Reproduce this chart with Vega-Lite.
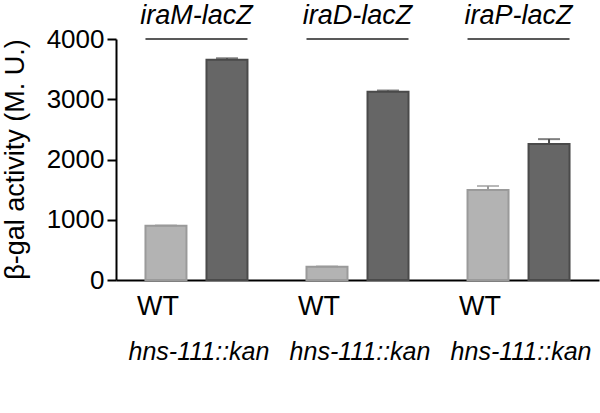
{
  "$schema": "https://vega.github.io/schema/vega-lite/v6.json",
  "width": 483,
  "height": 241,
  "autosize": {"type": "none"},
  "padding": {"left": 116, "top": 39, "right": 1, "bottom": 133},
  "background": "white",
  "config": {"view": {"stroke": null}, "font": "Liberation Sans"},
  "data": {
    "values": [
      {"reporter": "iraM-lacZ", "strain": "WT", "value": 900, "upper": 905},
      {"reporter": "iraM-lacZ", "strain": "hns-111::kan", "value": 3655, "upper": 3680},
      {"reporter": "iraD-lacZ", "strain": "WT", "value": 220, "upper": 225},
      {"reporter": "iraD-lacZ", "strain": "hns-111::kan", "value": 3125, "upper": 3145},
      {"reporter": "iraP-lacZ", "strain": "WT", "value": 1494, "upper": 1560},
      {"reporter": "iraP-lacZ", "strain": "hns-111::kan", "value": 2257, "upper": 2338}
    ]
  },
  "encoding": {
    "x": {
      "field": "reporter",
      "type": "nominal",
      "sort": ["iraM-lacZ", "iraD-lacZ", "iraP-lacZ"],
      "scale": {"paddingInner": 0.3665, "paddingOuter": 0.183},
      "axis": {"domain": true, "domainColor": "#000000", "domainWidth": 2, "ticks": false, "labels": false, "title": null}
    }
  },
  "layer": [
    {
      "mark": {"type": "bar", "strokeWidth": 2},
      "encoding": {
        "xOffset": {"field": "strain", "type": "nominal", "sort": ["WT", "hns-111::kan"], "scale": {"paddingInner": 0.328, "paddingOuter": 0}},
        "y": {
          "field": "value",
          "type": "quantitative",
          "scale": {"domain": [0, 4000], "nice": false},
          "axis": {
            "values": [0, 1000, 2000, 3000, 4000],
            "format": "d",
            "grid": false,
            "domainColor": "#000000",
            "domainWidth": 2,
            "tickColor": "#000000",
            "tickWidth": 2,
            "tickSize": 9,
            "labelPadding": 3,
            "labelFontSize": 26,
            "labelColor": "#000000",
            "title": "β-gal activity (M. U.)",
            "titleFontSize": 27,
            "titleFontWeight": "normal",
            "titleColor": "#000000",
            "titleAngle": 270,
            "titleX": -101,
            "titleY": 120,
            "titleAlign": "center",
            "titleBaseline": "middle"
          }
        },
        "fill": {"field": "strain", "type": "nominal", "scale": {"domain": ["WT", "hns-111::kan"], "range": ["#b3b3b3", "#666666"]}, "legend": null},
        "stroke": {"field": "strain", "type": "nominal", "scale": {"domain": ["WT", "hns-111::kan"], "range": ["#9a9a9a", "#4a4a4a"]}, "legend": null}
      }
    },
    {
      "mark": {"type": "rule", "strokeWidth": 2},
      "encoding": {
        "xOffset": {"field": "strain", "type": "nominal", "sort": ["WT", "hns-111::kan"]},
        "y": {"field": "value", "type": "quantitative"},
        "y2": {"field": "upper"},
        "stroke": {"field": "strain", "type": "nominal", "legend": null}
      }
    },
    {
      "mark": {"type": "tick", "size": 22, "thickness": 2},
      "encoding": {
        "xOffset": {"field": "strain", "type": "nominal", "sort": ["WT", "hns-111::kan"]},
        "y": {"field": "upper", "type": "quantitative"},
        "color": {"field": "strain", "type": "nominal", "scale": {"domain": ["WT", "hns-111::kan"], "range": ["#9a9a9a", "#4a4a4a"]}, "legend": null}
      }
    },
    {
      "transform": [{"filter": "datum.strain === 'WT'"}],
      "mark": {"type": "text", "align": "center", "baseline": "middle", "fontSize": 27, "dx": -8, "dy": 27, "color": "#000000"},
      "encoding": {
        "xOffset": {"field": "strain", "type": "nominal", "sort": ["WT", "hns-111::kan"]},
        "y": {"datum": 0},
        "text": {"field": "strain"}
      }
    },
    {
      "transform": [{"filter": "datum.strain !== 'WT'"}],
      "mark": {"type": "text", "align": "center", "baseline": "middle", "fontSize": 25, "fontStyle": "italic", "dx": -28, "dy": 72, "color": "#000000"},
      "encoding": {
        "xOffset": {"field": "strain", "type": "nominal", "sort": ["WT", "hns-111::kan"]},
        "y": {"datum": 0},
        "text": {"field": "strain"}
      }
    },
    {
      "transform": [{"filter": "datum.strain === 'WT'"}],
      "mark": {"type": "text", "align": "center", "baseline": "alphabetic", "fontSize": 27, "fontStyle": "italic", "dy": -15, "color": "#000000"},
      "encoding": {
        "y": {"datum": 4000},
        "text": {"field": "reporter"}
      }
    },
    {
      "transform": [{"filter": "datum.strain === 'WT'"}],
      "mark": {"type": "rule", "strokeWidth": 1.5, "color": "#222222"},
      "encoding": {
        "x": {"field": "reporter", "type": "nominal", "bandPosition": 0},
        "x2": {"field": "reporter", "bandPosition": 1},
        "y": {"datum": 4000}
      }
    }
  ]
}
